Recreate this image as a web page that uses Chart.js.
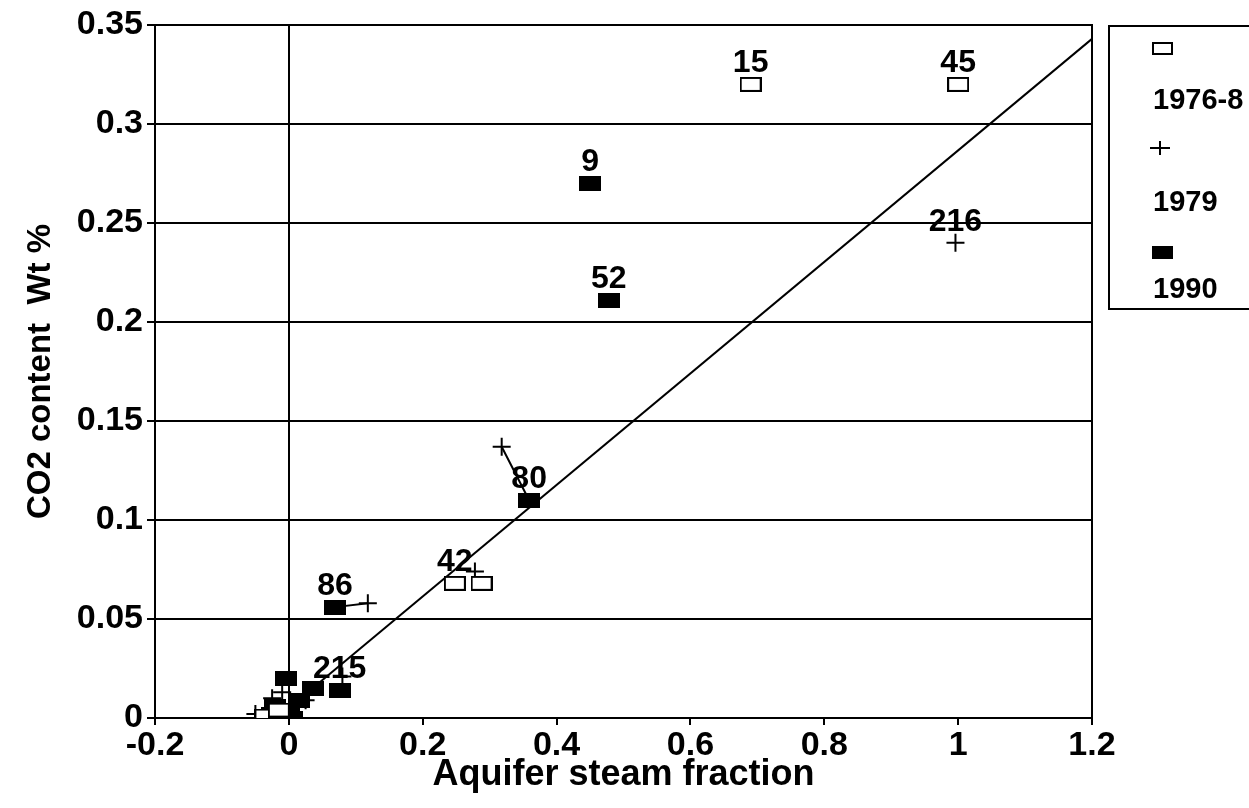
<!DOCTYPE html>
<html lang="en">
<head>
<meta charset="UTF-8" />
<title>CO2 content vs aquifer steam fraction</title>
<script src="https://cdn.jsdelivr.net/npm/chart.js"></script>
<style>
  body { margin: 0; background: #fff; font-family: "Liberation Sans", Arial, sans-serif; }
  #wrap { position: relative; width: 1249px; height: 808px; }
  #legend { position: absolute; left: 1108px; top: 25px; width: 160px; height: 281px; border: 2px solid #000; }
  #legend .txt { position: absolute; left: 43px; font-weight: bold; font-size: 29px; line-height: 30px; }
  #legend .open { position: absolute; left: 42px; width: 17px; height: 9px; border: 2px solid #000; background: #fff; }
  #legend .fill { position: absolute; left: 42px; width: 21px; height: 13px; background: #000; }
  #legend .plus { position: absolute; left: 40px; width: 20px; height: 14px; }
  #legend .plus:before { content: ""; position: absolute; left: 0; top: 6px; width: 20px; height: 2px; background: #000; }
  #legend .plus:after { content: ""; position: absolute; left: 9px; top: 0; width: 2px; height: 14px; background: #000; }
</style>
</head>
<body>
<div id="wrap">
  <canvas id="co2Chart"></canvas>
  <div id="legend">
    <div class="open" style="top:15px"></div>
    <div class="txt" style="top:57px">1976-8</div>
    <div class="plus" style="top:114px"></div>
    <div class="txt" style="top:159px">1979</div>
    <div class="fill" style="top:219px"></div>
    <div class="txt" style="top:246px">1990</div>
  </div>
</div>

<script>
  // 1976-8 samples (open squares)
  const openX = [0.69, 1.0, 0.248, 0.288, -0.035, -0.015];
  const openY = [0.32, 0.32, 0.068, 0.068, 0.001, 0.004];
  const openLbl = ['15', '45', '42', '', '', ''];

  // 1979 samples (plus)
  const plusX = [0.996, 0.318, 0.118, 0.278, 0.08, -0.01, -0.025, -0.05, 0.01, 0.025];
  const plusY = [0.24, 0.137, 0.058, 0.074, 0.021, 0.013, 0.01, 0.002, 0.006, 0.009];
  const plusLbl = ['216', '', '', '', '', '', '', '', '', ''];

  // 1990 samples (filled squares)
  const fillX = [0.45, 0.478, 0.359, 0.069, 0.076, 0.036, -0.004, 0.015, -0.02, 0.0, -0.01, 0.005, -0.025];
  const fillY = [0.27, 0.211, 0.11, 0.056, 0.014, 0.015, 0.02, 0.009, 0.006, 0.003, 0.001, 0.0, 0.002];
  const fillLbl = ['9', '52', '80', '86', '215', '', '', '', '', '', '', '', ''];

  // tie lines between the same well in 1979 and 1990
  const tieX = [0.318, 0.359, null, 0.069, 0.118];
  const tieY = [0.137, 0.11, null, 0.056, 0.058];

  // fitted line
  const fitX = [0, 1.2];
  const fitY = [0.005, 0.343];

  const xTicks = { min: -0.2, max: 1.2, step: 0.2 };
  const yTicks = { min: 0, max: 0.35, step: 0.05 };

  const pts = (xs, ys) => xs.map((x, i) => ({ x: x, y: x === null ? null : ys[i] }));

  function rectMarker(filled) {
    const c = document.createElement('canvas');
    c.width = 22; c.height = 15;
    const g = c.getContext('2d');
    g.fillStyle = filled ? '#000' : '#fff';
    g.fillRect(1, 1, 20, 13);
    g.lineWidth = 2;
    g.strokeStyle = '#000';
    g.strokeRect(1, 1, 20, 13);
    return c;
  }

  const numLabels = {
    id: 'numLabels',
    afterDatasetsDraw(chart) {
      const ctx = chart.ctx;
      ctx.save();
      ctx.font = 'bold 32px "Liberation Sans", Arial, sans-serif';
      ctx.fillStyle = '#000';
      ctx.textAlign = 'center';
      ctx.textBaseline = 'alphabetic';
      chart.data.datasets.forEach((ds, di) => {
        if (!ds.labels) return;
        const meta = chart.getDatasetMeta(di);
        ds.labels.forEach((t, i) => {
          if (!t) return;
          const p = meta.data[i];
          ctx.fillText(t, p.x, p.y - 12);
        });
      });
      ctx.restore();
    }
  };

  const frame = {
    id: 'frame',
    beforeDatasetsDraw(chart) {
      const a = chart.chartArea, ctx = chart.ctx;
      ctx.save();
      ctx.strokeStyle = '#000';
      ctx.lineWidth = 2;
      ctx.strokeRect(a.left, a.top, a.right - a.left, a.bottom - a.top);
      ctx.restore();
    }
  };

  const tickFont = { family: '"Liberation Sans", Arial, sans-serif', size: 34, weight: 'bold' };
  const fmt = v => String(parseFloat(v.toFixed(2)));

  new Chart(document.getElementById('co2Chart'), {
    type: 'scatter',
    data: {
      datasets: [
        {
          label: '1976-8', data: pts(openX, openY), labels: openLbl,
          pointStyle: rectMarker(false), pointRadius: 10
        },
        {
          label: '1979', data: pts(plusX, plusY), labels: plusLbl,
          pointStyle: 'cross', pointRadius: 9, borderColor: '#000', borderWidth: 2
        },
        {
          label: '1990', data: pts(fillX, fillY), labels: fillLbl,
          pointStyle: rectMarker(true), pointRadius: 10
        },
        {
          type: 'line', label: 'tie', data: pts(tieX, tieY),
          borderColor: '#000', borderWidth: 2, pointRadius: 0, spanGaps: false
        },
        {
          type: 'line', label: 'fit', data: pts(fitX, fitY),
          borderColor: '#000', borderWidth: 2, pointRadius: 0
        }
      ]
    },
    options: {
      responsive: true,
      maintainAspectRatio: false,
      animation: false,
      events: [],
      layout: { padding: { top: 25, right: 157, left: 0, bottom: 0 } },
      plugins: { legend: { display: false }, tooltip: { enabled: false } },
      scales: {
        x: {
          type: 'linear', min: xTicks.min, max: xTicks.max,
          afterFit: s => { s.height = 90; },
          ticks: { stepSize: xTicks.step, color: '#000', font: tickFont, padding: 0, callback: fmt, maxRotation: 0 },
          grid: {
            color: c => (c.tick && Math.abs(c.tick.value) < 1e-9) ? '#000' : 'rgba(0,0,0,0)',
            tickColor: '#000', lineWidth: 2, tickLength: 7
          },
          border: { color: '#000', width: 2 },
          title: { display: true, text: 'Aquifer steam fraction', color: '#000', font: { ...tickFont, size: 36 }, padding: { bottom: 11 } }
        },
        y: {
          type: 'linear', min: yTicks.min, max: yTicks.max,
          afterFit: s => { s.width = 155; },
          ticks: { stepSize: yTicks.step, color: '#000', font: tickFont, padding: 4, callback: fmt },
          grid: { color: '#000', tickColor: '#000', lineWidth: 2, tickLength: 8 },
          border: { color: '#000', width: 2 },
          title: { display: true, text: 'CO2 content  Wt %', color: '#000', font: { ...tickFont, size: 33 }, padding: { top: 21 } }
        }
      }
    },
    plugins: [frame, numLabels]
  });
</script>
</body>
</html>
